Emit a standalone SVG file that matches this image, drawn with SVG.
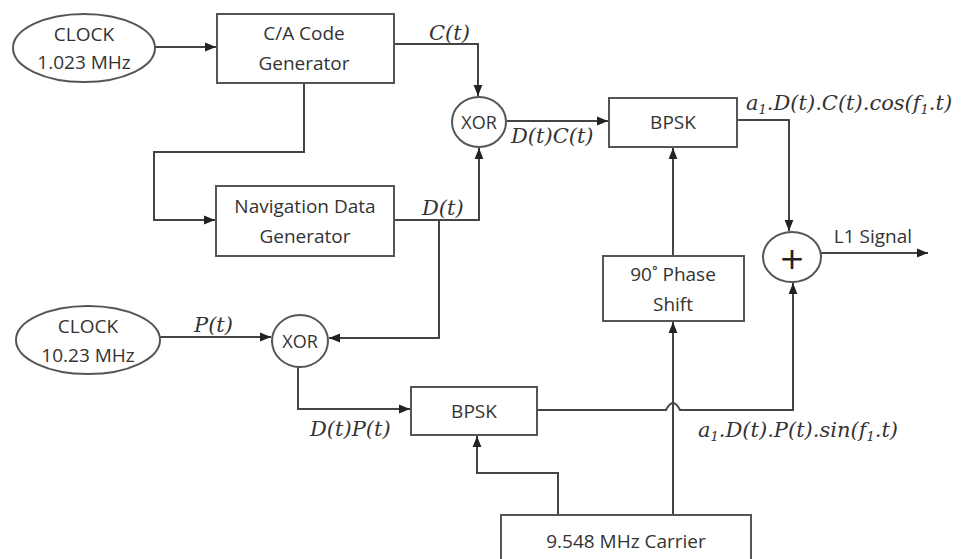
<svg xmlns="http://www.w3.org/2000/svg" width="976" height="559" viewBox="0 0 976 559">
<style>
.box{fill:#fff;stroke:#555;stroke-width:2}
.ln{fill:none;stroke:#444;stroke-width:2}
.t{font-family:"Open Sans","Noto Sans",sans-serif;font-size:19px;fill:#333;text-anchor:middle}
.m{font-family:"DejaVu Serif","Liberation Serif",serif;font-style:italic;font-size:21px;fill:#333}
.s{font-size:13px}
</style>
<defs>
<marker id="ah" viewBox="0 0 10 10" refX="10" refY="5" markerWidth="11" markerHeight="11" markerUnits="userSpaceOnUse" orient="auto">
<path d="M0,1 L10,5 L0,9 Z" fill="#222"/>
</marker>
</defs>
<rect width="976" height="559" fill="#fff"/>
<g id="connectors">
<path class="ln" d="M155,47 H216" marker-end="url(#ah)"/>
<path class="ln" d="M304,83 V152 H154 V220 H215" marker-end="url(#ah)"/>
<path class="ln" d="M394,44 H478 V96" marker-end="url(#ah)"/>
<path class="ln" d="M394,220 H479 V148" marker-end="url(#ah)"/>
<path class="ln" d="M439,220 V338 H329" marker-end="url(#ah)"/>
<path class="ln" d="M507,121 H608" marker-end="url(#ah)"/>
<path class="ln" d="M737,120 H789 V231" marker-end="url(#ah)"/>
<path class="ln" d="M673,256 V148" marker-end="url(#ah)"/>
<path class="ln" d="M821,253 H928" marker-end="url(#ah)"/>
<path class="ln" d="M160,337 H271" marker-end="url(#ah)"/>
<path class="ln" d="M298,367 V409 H410" marker-end="url(#ah)"/>
<path class="ln" d="M537,410 H666 Q673,396 680,410 H793 V283" marker-end="url(#ah)"/>
<path class="ln" d="M673,515 V322" marker-end="url(#ah)"/>
<path class="ln" d="M558,515 V473 H477 V436" marker-end="url(#ah)"/>
</g>
<g id="clock1">
<ellipse class="box" cx="84" cy="48" rx="71" ry="34"/>
<text class="t" x="84" y="41">CLOCK</text>
<text class="t" x="84" y="69">1.023 MHz</text>
</g>
<g id="ca-gen">
<rect class="box" x="217" y="14" width="177" height="69"/>
<text class="t" x="304" y="40">C/A Code</text>
<text class="t" x="304" y="70">Generator</text>
</g>
<g id="nav-gen">
<rect class="box" x="216" y="186" width="178" height="70"/>
<text class="t" x="305" y="213">Navigation Data</text>
<text class="t" x="305" y="243">Generator</text>
</g>
<g id="xor1">
<ellipse class="box" cx="479" cy="122" rx="27" ry="25"/>
<text class="t" x="479" y="129" style="font-size:18px">XOR</text>
</g>
<g id="bpsk1">
<rect class="box" x="609" y="98" width="128" height="49"/>
<text class="t" x="673" y="129">BPSK</text>
</g>
<g id="phase">
<rect class="box" x="603" y="256" width="141" height="65"/>
<text class="t" x="673" y="281">90˚ Phase</text>
<text class="t" x="673" y="311">Shift</text>
</g>
<g id="sum">
<ellipse class="box" cx="792" cy="257" rx="29" ry="25"/>
<text x="792" y="269" style="font-family:'DejaVu Sans',sans-serif;font-size:31px;fill:#222;text-anchor:middle">+</text>
</g>
<g id="clock2">
<ellipse class="box" cx="88" cy="340" rx="72" ry="34"/>
<text class="t" x="88" y="333">CLOCK</text>
<text class="t" x="88" y="362">10.23 MHz</text>
</g>
<g id="xor2">
<ellipse class="box" cx="300" cy="341" rx="28" ry="26"/>
<text class="t" x="300" y="348" style="font-size:18px">XOR</text>
</g>
<g id="bpsk2">
<rect class="box" x="411" y="387" width="126" height="48"/>
<text class="t" x="474" y="418">BPSK</text>
</g>
<g id="carrier">
<rect class="box" x="501" y="515" width="250" height="60"/>
<text class="t" x="626" y="548">9.548 MHz Carrier</text>
</g>
<g id="labels">
<text class="m" x="429" y="40">C(t)</text>
<text class="m" x="422" y="215">D(t)</text>
<text class="m" x="511" y="143">D(t)C(t)</text>
<text class="m" x="746" y="110">a<tspan class="s" dy="4">1</tspan><tspan dy="-4">.D(t).C(t).cos(f</tspan><tspan class="s" dy="4">1</tspan><tspan dy="-4">.t)</tspan></text>
<text class="t" x="873" y="243">L1 Signal</text>
<text class="m" x="194" y="332">P(t)</text>
<text class="m" x="310" y="436">D(t)P(t)</text>
<text class="m" x="698" y="437">a<tspan class="s" dy="4">1</tspan><tspan dy="-4">.D(t).P(t).sin(f</tspan><tspan class="s" dy="4">1</tspan><tspan dy="-4">.t)</tspan></text>
</g>
</svg>
